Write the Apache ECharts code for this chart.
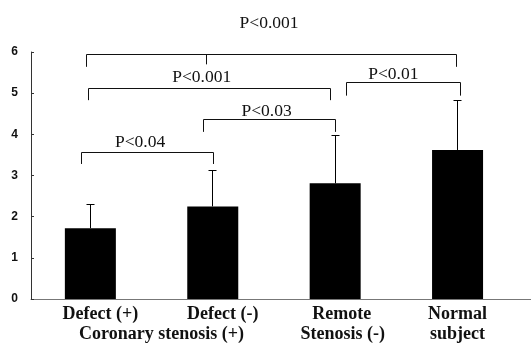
<!DOCTYPE html>
<html>
<head>
<meta charset="utf-8">
<script src="https://cdn.jsdelivr.net/npm/echarts@6/dist/echarts.min.js"></script>
<style>
html,body{margin:0;padding:0;background:#fff;}
#chart{width:531px;height:344px;}
</style>
</head>
<body>
<div id="chart"></div>
<script>
// ---- data ----
const categories = ['Defect (+)', 'Defect (-)', 'Remote', 'Normal'];
const subLabels = ['Coronary stenosis (+)', 'Stenosis (-)', 'subject'];
const subLabelSpan = [[0, 1], [2, 2], [3, 3]];
const means = [1.72, 2.25, 2.81, 3.62];
const sdTops = [2.30, 3.13, 3.97, 4.81];
const yTicks = [0, 1, 2, 3, 4, 5, 6];

const pLabels = ['P<0.001', 'P<0.001', 'P<0.01', 'P<0.03', 'P<0.04'];
const bracketLeft = [-0.03, -0.016, 2.095, 0.923, -0.076];
const bracketRight = [2.99, 1.964, 3.02, 2.005, 1.005];
const bracketLevel = [5.945, 5.11, 5.25, 4.36, 3.56];
const bracketLegEnd = [5.64, 4.83, 4.94, 4.06, 3.28];
const bracketMidTick = [[0.95, 5.70], null, null, null, null];
const pLabelX = [1.46, 0.91, 2.475, 1.44, 0.406];
const pLabelY = [6.69, 5.39, 5.46, 4.56, 3.80];

// ---- layout / style ----
const labelShift = [10, 10, 6.5, 0];
const pFont = '17.5px "Liberation Serif", "Times New Roman", serif';
const catFont = 'bold 18px "Liberation Serif", "Times New Roman", serif';
const crisp = v => Math.round(v - 0.5) + 0.5;

const chart = echarts.init(document.getElementById('chart'), null, {renderer: 'canvas'});

const option = {
  animation: false,
  backgroundColor: '#fff',
  grid: {left: 31, right: 0, top: 52, bottom: 45},
  xAxis: {
    type: 'value', min: -0.485, max: 3.6,
    axisLine: {show: true, onZero: false, lineStyle: {color: '#777', width: 1}},
    axisTick: {show: false}, axisLabel: {show: false}, splitLine: {show: false}
  },
  yAxis: {
    type: 'value', min: 0, max: 6, interval: 1,
    axisLine: {show: true, onZero: false, lineStyle: {color: '#333', width: 1}},
    axisTick: {show: true, inside: true, length: 3, lineStyle: {color: '#333'}},
    axisLabel: {
      color: '#111', fontSize: 12, fontWeight: 'bold', fontFamily: '"Liberation Sans", Arial, sans-serif',
      margin: 13, padding: [8, 0, 0, 0],
      formatter: v => yTicks.includes(v) ? String(v) : ''
    },
    splitLine: {show: false}
  },
  series: [
    {
      type: 'bar',
      data: means.map((m, i) => [i, m]),
      barWidth: 51,
      itemStyle: {color: '#000'},
      z: 2
    },
    {
      // error bars
      type: 'custom',
      data: sdTops.map((t, i) => [i, means[i], t]),
      clip: false,
      z: 3,
      renderItem: (params, api) => {
        const base = api.coord([api.value(0), api.value(1)]);
        const top = api.coord([api.value(0), api.value(2)]);
        const x = crisp(base[0]);
        const yt = crisp(top[1]);
        return {
          type: 'group',
          children: [
            {type: 'line', shape: {x1: x, y1: base[1], x2: x, y2: yt}, style: {stroke: '#000', lineWidth: 1}},
            {type: 'line', shape: {x1: x - 4, y1: yt, x2: x + 4, y2: yt}, style: {stroke: '#000', lineWidth: 1}}
          ]
        };
      }
    },
    {
      // significance brackets
      type: 'custom',
      data: pLabels.map((t, i) => [pLabelX[i], pLabelY[i]]),
      clip: false,
      z: 4,
      renderItem: (params, api) => {
        const i = params.dataIndex;
        const L = api.coord([bracketLeft[i], bracketLevel[i]]);
        const R = api.coord([bracketRight[i], bracketLevel[i]]);
        const Le = api.coord([bracketLeft[i], bracketLegEnd[i]]);
        const lab = api.coord([api.value(0), api.value(1)]);
        const yl = crisp(L[1]);
        const children = [
          {type: 'polyline', shape: {points: [[crisp(L[0]), Le[1]], [crisp(L[0]), yl], [crisp(R[0]), yl], [crisp(R[0]), Le[1]]]},
           style: {stroke: '#111', lineWidth: 1, fill: null}},
          {type: 'text', x: lab[0], y: lab[1],
           style: {text: pLabels[i], fill: '#111', font: pFont, align: 'center', verticalAlign: 'middle'}}
        ];
        const mt = bracketMidTick[i];
        if (mt) {
          const a = api.coord([mt[0], bracketLevel[i]]);
          const b = api.coord([mt[0], mt[1]]);
          children.push({type: 'line', shape: {x1: crisp(a[0]), y1: yl, x2: crisp(a[0]), y2: b[1]}, style: {stroke: '#111', lineWidth: 1}});
        }
        return {type: 'group', children};
      }
    },
    {
      // category labels (line 1)
      type: 'custom',
      data: categories.map((c, i) => [i, 0]),
      clip: false,
      z: 5,
      renderItem: (params, api) => {
        const i = params.dataIndex;
        const p = api.coord([api.value(0), 0]);
        return {type: 'text', x: p[0] + labelShift[i], y: p[1] + 15,
          style: {text: categories[i], fill: '#111', font: catFont, align: 'center', verticalAlign: 'middle'}};
      }
    },
    {
      // category labels (line 2)
      type: 'custom',
      data: subLabels.map((c, i) => [(subLabelSpan[i][0] + subLabelSpan[i][1]) / 2, 0]),
      clip: false,
      z: 5,
      renderItem: (params, api) => {
        const i = params.dataIndex;
        const s = subLabelSpan[i];
        const a = api.coord([s[0], 0]);
        const b = api.coord([s[1], 0]);
        const x = (a[0] + labelShift[s[0]] + b[0] + labelShift[s[1]]) / 2;
        return {type: 'text', x: x + (s[0] === 2 ? 1 : 0), y: a[1] + 35,
          style: {text: subLabels[i], fill: '#111', font: catFont, align: 'center', verticalAlign: 'middle'}};
      }
    }
  ]
};
chart.setOption(option);
</script>
</body>
</html>
